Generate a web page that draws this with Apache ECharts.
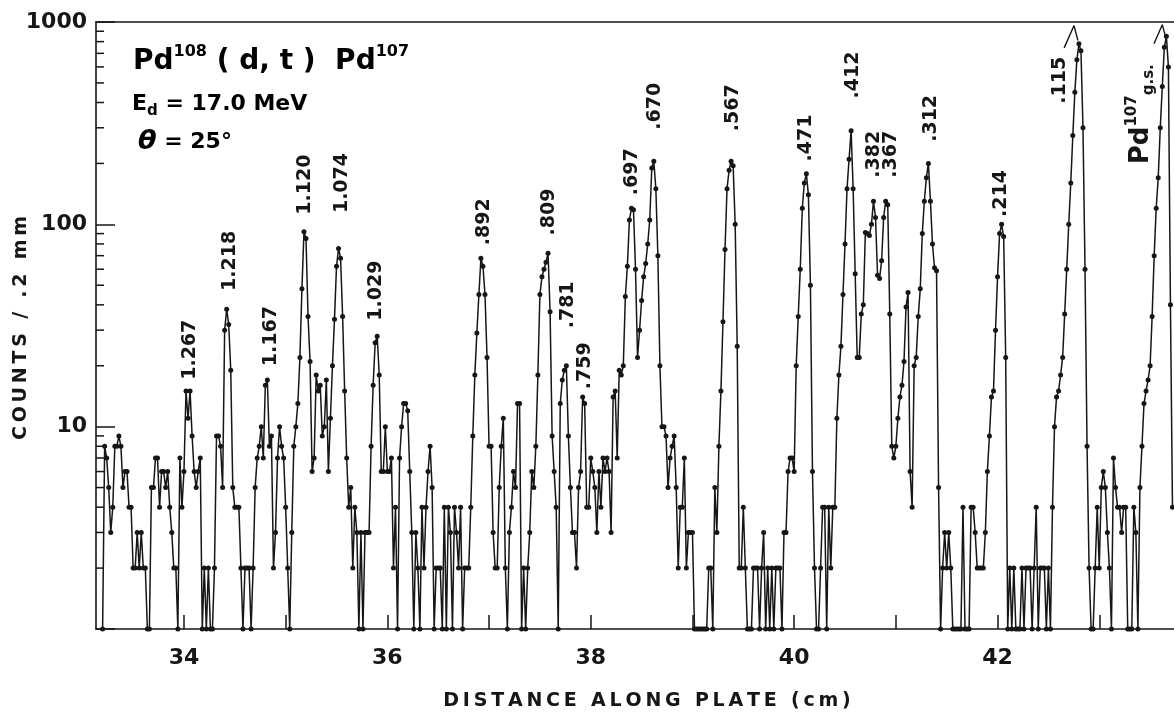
<!DOCTYPE html>
<html>
<head>
<meta charset="utf-8">
<title>Pd108(d,t)Pd107 plate spectrum</title>
<script src="https://cdn.jsdelivr.net/npm/echarts@6/dist/echarts.min.js"></script>
<style>
  html, body { margin: 0; padding: 0; background: #fff; }
  #chart { width: 1174px; height: 717px; }
</style>
</head>
<body>
<div id="chart"></div>
<script>
/*
 * Pd108(d,t)Pd107 - triton spectrum along the plate
 * E_d = 17.0 MeV, theta = 25 deg
 * Counts per 0.2 mm strip, log scale
 */

// ======================
// DATA
// ======================

// strips are 0.2 mm wide, first strip read at 33.20 cm
const stripStart = 33.20;
const stripWidth = 0.02;

// counts per strip, one array per centimetre of plate
const cm33 = [1, 8, 7, 5, 3, 4, 8, 8, 9, 8, 5, 6, 6, 4, 4, 2, 2, 3, 2, 3,
              2, 2, 1, 1, 5, 5, 7, 7, 4, 6, 6, 5, 6, 4, 3, 2, 2, 1, 7, 4];
const cm34 = [6, 15, 11, 15, 9, 6, 5, 6, 7, 1, 2, 1, 2, 1, 1, 2, 9, 9, 8, 5,
              30, 38, 32, 19, 5, 4, 4, 4, 2, 1, 2, 2, 2, 1, 2, 5, 7, 8, 10, 7,
              16, 17, 8, 9, 2, 3, 7, 10, 8, 7];
const cm35 = [4, 2, 1, 3, 8, 10, 13, 22, 48, 92, 85, 35, 21, 6, 7, 18, 15, 16, 9, 10,
              17, 6, 11, 20, 34, 62, 76, 68, 35, 15, 7, 4, 5, 2, 4, 3, 1, 3, 1, 3,
              3, 3, 8, 16, 26, 28, 18, 6, 6, 10];
const cm36 = [6, 6, 7, 2, 4, 1, 7, 10, 13, 13, 12, 6, 3, 1, 3, 2, 1, 4, 2, 4,
              6, 8, 5, 1, 2, 2, 2, 1, 4, 1, 4, 3, 1, 4, 3, 2, 4, 1, 2, 2,
              2, 4, 9, 18, 29, 45, 68, 62, 45, 22];
const cm37 = [8, 8, 3, 2, 2, 5, 8, 11, 2, 1, 3, 4, 6, 5, 13, 13, 1, 2, 1, 2,
              3, 6, 5, 8, 18, 45, 55, 60, 65, 72, 37, 9, 6, 4, 1, 13, 17, 19, 20, 9,
              5, 3, 3, 2, 5, 6, 14, 13, 4, 4];
const cm38 = [7, 6, 5, 3, 6, 4, 7, 6, 7, 6, 3, 14, 15, 7, 19, 18, 20, 44, 62, 105,
              120, 118, 60, 22, 30, 42, 55, 64, 80, 105, 190, 205, 150, 70, 20, 10, 10, 9, 5, 7,
              8, 9, 5, 2, 4, 4, 7, 2, 3, 3];
const cm39 = [3, 1, 1, 1, 1, 1, 1, 1, 2, 2, 1, 5, 3, 8, 15, 33, 75, 150, 185, 205,
              195, 100, 25, 2, 2, 4, 2, 1, 1, 1, 2, 2, 2, 1, 2, 3, 1, 2, 1, 2,
              1, 2, 2, 2, 1, 3, 3, 6, 7, 7];
const cm40 = [6, 20, 35, 60, 120, 160, 178, 140, 50, 6, 2, 1, 1, 2, 4, 4, 1, 4, 2, 4,
              4, 11, 18, 25, 45, 80, 150, 210, 290, 150, 57, 22, 22, 36, 40, 91, 90, 88, 100, 130,
              108, 56, 54, 66, 108, 130, 125, 36, 8, 7];
const cm41 = [8, 11, 14, 16, 21, 39, 46, 6, 4, 20, 22, 35, 48, 90, 130, 170, 200, 130, 80, 61,
              59, 5, 1, 2, 3, 2, 3, 2, 1, 1, 1, 1, 1, 4, 1, 1, 1, 4, 4, 3,
              2, 2, 2, 2, 3, 6, 9, 14, 15, 30];
const cm42 = [55, 90, 100, 87, 22, 1, 2, 1, 2, 1, 1, 1, 2, 1, 2, 2, 2, 1, 2, 4,
              1, 2, 2, 2, 1, 2, 1, 4, 10, 14, 15, 18, 22, 36, 60, 100, 160, 275, 450, 650,
              780, 720, 300, 60, 8, 2, 1, 1, 2, 4];
const cm43 = [2, 5, 6, 5, 3, 2, 1, 7, 5, 4, 4, 3, 4, 4, 1, 1, 1, 4, 3, 1,
              5, 8, 13, 15, 17, 20, 35, 70, 120, 170, 300, 480, 750, 850, 600, 40, 4];

// excitation energies (MeV) written above the peaks, label centre in data units
const peakNames  = ['1.267', '1.218', '1.167', '1.120', '1.074', '1.029', '.892', '.809', '.781', '.759',
                    '.697', '.670', '.567', '.471', '.412', '.382', '.367', '.312', '.214', '.115'];
const peakLabelX = [34.06, 34.45, 34.86, 35.19, 35.55, 35.89, 36.955, 37.59, 37.78, 37.94,
                    38.41, 38.63, 39.40, 40.115, 40.58, 40.79, 40.95, 41.345, 42.03, 42.61];
const peakLabelY = [24, 66, 28, 157, 160, 47, 103, 115, 40, 20,
                    182, 383, 377, 267, 547, 222, 222, 334, 142, 515];

// ground state label and leader lines
const gsLabelX = 43.41;
const gsLabelY = 350;
const leader115X = [42.655, 42.752, 42.79];
const leader115Y = [745, 960, 810];
const leaderGsX = [43.538, 43.62, 43.653];
const leaderGsY = [780, 970, 840];

// axis ticks
const xTickValues = [34, 35, 36, 37, 38, 39, 40, 41, 42, 43];
const xLabelValues = [34, 36, 38, 40, 42];
const yMinorTicks = [2, 3, 4, 5, 6, 7, 8, 9, 20, 30, 40, 50, 60, 70, 80, 90,
                     200, 300, 400, 500, 600, 700, 800, 900];

// ======================
// SETUP
// ======================

const FONT = 'DejaVu Sans';
const INK = '#161616';
const X_MIN = 33.135;
const X_MAX = 43.735;

const counts = [].concat(cm33, cm34, cm35, cm36, cm37, cm38, cm39, cm40, cm41, cm42, cm43);
const spectrum = counts.map((c, i) => [+(stripStart + i * stripWidth).toFixed(2), c]);

// lettering on the original is spaced out a little
const spaced = s => s.split('').join('\u2009');

const chart = echarts.init(document.getElementById('chart'));

function renderPeakLabel(params, api) {
    const p = api.coord([api.value(0), api.value(1)]);
    return {
        type: 'text',
        x: p[0],
        y: p[1],
        rotation: Math.PI / 2,
        style: {
            text: peakNames[params.dataIndex],
            font: `bold 19px "${FONT}"`,
            fill: INK,
            align: 'center',
            verticalAlign: 'middle'
        }
    };
}

function renderGsLabel(params, api) {
    const p = api.coord([api.value(0), api.value(1)]);
    return {
        type: 'text',
        x: p[0],
        y: p[1],
        rotation: Math.PI / 2,
        style: {
            text: '{a|Pd}{s|107}{b|g.s.}',
            fill: INK,
            align: 'center',
            verticalAlign: 'middle',
            rich: {
                a: { fontFamily: FONT, fontWeight: 'bold', fontSize: 26, color: INK, lineHeight: 32 },
                s: { fontFamily: FONT, fontWeight: 'bold', fontSize: 15, color: INK, lineHeight: 32, verticalAlign: 'top' },
                b: { fontFamily: FONT, fontWeight: 'bold', fontSize: 15, color: INK, lineHeight: 32, verticalAlign: 'bottom' }
            }
        }
    };
}

function renderMinorTick(params, api) {
    const p = api.coord([api.value(0), api.value(1)]);
    return {
        type: 'line',
        shape: { x1: p[0], y1: p[1], x2: p[0] + 8, y2: p[1] },
        style: { stroke: INK, lineWidth: 1.5 }
    };
}

const leaderStyle = { color: INK, width: 1.4 };

const option = {
    animation: false,
    backgroundColor: '#fff',
    grid: { left: 96, right: 0, top: 22, bottom: 88 },
    xAxis: [
        {
            type: 'value',
            min: X_MIN,
            max: X_MAX,
            axisLine: { show: true, lineStyle: { color: INK, width: 1.6 } },
            axisTick: { show: true, inside: true, length: 14, customValues: xTickValues,
                        lineStyle: { color: INK, width: 1.5 } },
            axisLabel: { customValues: xLabelValues, fontFamily: FONT, fontWeight: 'bold',
                         fontSize: 22, color: INK, margin: 18 },
            splitLine: { show: false }
        },
        {
            type: 'value',
            position: 'top',
            min: X_MIN,
            max: X_MAX,
            axisLine: { show: true, lineStyle: { color: INK, width: 1.6 } },
            axisTick: { show: false },
            axisLabel: { show: false },
            splitLine: { show: false }
        }
    ],
    yAxis: {
        type: 'log',
        logBase: 10,
        min: 1,
        max: 1000,
        axisLine: { show: true, lineStyle: { color: INK, width: 1.6 } },
        axisTick: { show: true, inside: true, length: 19, lineStyle: { color: INK, width: 1.5 } },
        axisLabel: {
            fontFamily: FONT, fontWeight: 'bold', fontSize: 22, color: INK, margin: 9,
            formatter: v => (v === 1 ? '' : String(v))
        },
        splitLine: { show: false }
    },
    graphic: [
        {
            type: 'text', x: 133, y: 62,
            style: {
                text: '{a|Pd}{s|108}{a| ( d, t )  Pd}{s|107}',
                verticalAlign: 'middle',
                rich: {
                    a: { fontFamily: FONT, fontWeight: 'bold', fontSize: 28, color: INK, lineHeight: 36 },
                    s: { fontFamily: FONT, fontWeight: 'bold', fontSize: 16, color: INK, lineHeight: 36, verticalAlign: 'top' }
                }
            }
        },
        {
            type: 'text', x: 132, y: 104,
            style: {
                text: '{a|E}{d|d}{a| = 17.0 MeV}',
                verticalAlign: 'middle',
                rich: {
                    a: { fontFamily: FONT, fontWeight: 'bold', fontSize: 22, color: INK, lineHeight: 30 },
                    d: { fontFamily: FONT, fontWeight: 'bold', fontSize: 15, color: INK, lineHeight: 30, verticalAlign: 'bottom' }
                }
            }
        },
        {
            type: 'text', x: 138, y: 142,
            style: {
                text: '{t|\u03b8}{a| = 25°}',
                verticalAlign: 'middle',
                rich: {
                    t: { fontFamily: FONT, fontSize: 27, fontStyle: 'italic', fontWeight: 'bold', color: INK, lineHeight: 32 },
                    a: { fontFamily: FONT, fontWeight: 'bold', fontSize: 22, color: INK, lineHeight: 32 }
                }
            }
        },
        {
            type: 'text', x: 21, y: 328, rotation: Math.PI / 2,
            style: {
                text: spaced('COUNTS / .2 mm'),
                font: `bold 19px "${FONT}"`,
                fill: INK,
                align: 'center',
                verticalAlign: 'middle'
            }
        },
        {
            type: 'text', x: 647, y: 701,
            style: {
                text: spaced('DISTANCE ALONG PLATE (cm)'),
                font: `bold 19px "${FONT}"`,
                fill: INK,
                align: 'center',
                verticalAlign: 'middle'
            }
        }
    ],
    series: [
        {
            name: 'counts',
            type: 'line',
            data: spectrum,
            symbol: 'circle',
            symbolSize: 5,
            clip: false,
            lineStyle: { color: INK, width: 1.5 },
            itemStyle: { color: INK },
            z: 3
        },
        {
            name: 'minor ticks',
            type: 'custom',
            silent: true,
            clip: false,
            data: yMinorTicks.map(v => [X_MIN, v]),
            renderItem: renderMinorTick
        },
        {
            name: 'peak energies',
            type: 'custom',
            silent: true,
            clip: false,
            data: peakLabelX.map((x, i) => [x, peakLabelY[i]]),
            renderItem: renderPeakLabel
        },
        {
            name: 'ground state',
            type: 'custom',
            silent: true,
            clip: false,
            data: [[gsLabelX, gsLabelY]],
            renderItem: renderGsLabel
        },
        {
            name: 'leader .115',
            type: 'line',
            data: leader115X.map((x, i) => [x, leader115Y[i]]),
            showSymbol: false,
            clip: false,
            lineStyle: leaderStyle
        },
        {
            name: 'leader g.s.',
            type: 'line',
            data: leaderGsX.map((x, i) => [x, leaderGsY[i]]),
            showSymbol: false,
            clip: false,
            lineStyle: leaderStyle
        }
    ]
};

try {
    chart.setOption(option);
} catch (error) {
    console.error('[PlateSpectrum] setOption error:', error);
}
</script>
</body>
</html>
